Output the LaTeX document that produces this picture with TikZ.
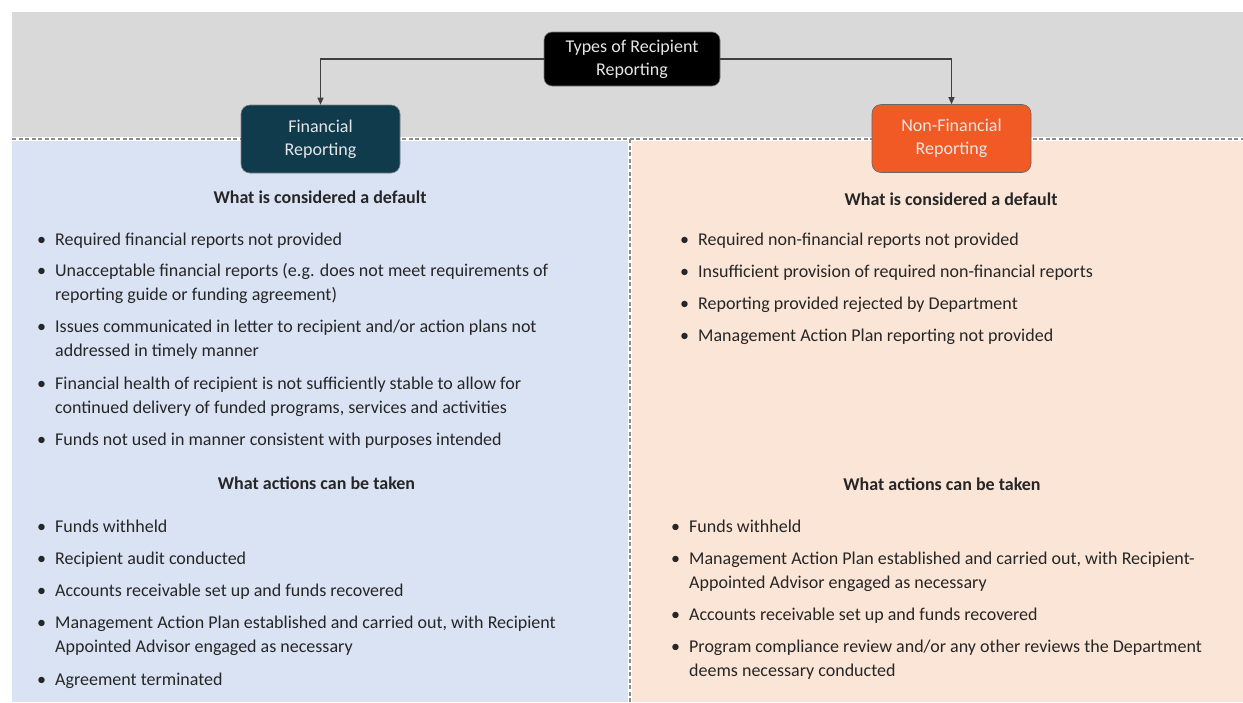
\documentclass[tikz,border=0pt]{standalone}
\usepackage{fontspec}
\setmainfont{Carlito}
\usetikzlibrary{arrows.meta}

\definecolor{bandgray}{HTML}{D9D9D9}
\definecolor{finpanel}{HTML}{DAE3F3}
\definecolor{nfpanel}{HTML}{FBE5D6}
\definecolor{finfill}{HTML}{0F3B4C}
\definecolor{nffill}{HTML}{F15A24}
\definecolor{bodytext}{HTML}{262626}
\definecolor{boxtext}{HTML}{E6E6E6}
\definecolor{rulegray}{HTML}{8C8C8C}
\definecolor{linkgray}{HTML}{404040}

\newlength{\bulw}
\setlength{\bulw}{18.5pt}
\newcommand{\bul}{\makebox[\bulw][l]{\hspace*{0.5pt}•}}
\newcommand{\cont}{\hspace*{\bulw}}

\begin{document}
\begin{tikzpicture}[x=1pt,y=-1pt,
  every node/.style={font=\fontsize{18}{24}\selectfont},
  roundbox/.style={rounded corners=9pt, minimum width=159pt, minimum height=68pt,
    align=center, text=boxtext, draw=gray, line width=0.6pt,
    font=\fontsize{18}{23}\selectfont},
  hubbox/.style={roundbox, fill=black, minimum width=176pt, minimum height=54pt,
    rounded corners=8pt},
  finbox/.style={roundbox, fill=finfill},
  nfbox/.style={roundbox, fill=nffill, draw=gray!80!black},
  link/.style={draw=linkgray, line width=1.1pt, -{Triangle[length=7pt,width=6pt]}},
  heading/.style={anchor=base, text=bodytext, inner sep=0pt,
    font=\fontsize{18}{24}\selectfont\bfseries},
  % base anchor of a two-line entry sits on its last line
  entry/.style={anchor=base west, align=left, text=bodytext, inner sep=0pt},
  sep/.style={rulegray, line width=1.6pt, dash pattern=on 4pt off 2.5pt},
  sepunder/.style={white, line width=3.2pt}
]
\useasboundingbox (0,0) rectangle (1243,702);

% background bands
\fill[bandgray] (12,12) rectangle (1243,139);
\fill[finpanel] (12,139) rectangle (630,702);
\fill[nfpanel] (630,139) rectangle (1243,702);

% dotted dividers
\draw[sepunder] (12,139) -- (1243,139);
\draw[sepunder] (630,139) -- (630,702);
\draw[sep] (12,139) -- (1243,139);
\draw[sep] (630,139) -- (630,702);

% boxes
\node[hubbox] (types) at (632,59) {Types of Recipient\\Reporting};
\node[finbox] (fin) at (320.5,139) {Financial\\Reporting};
\node[nfbox] (nonfin) at (951.5,138.5) {Non-Financial\\Reporting};

\draw[link] (types.west) -| (fin.north);
\draw[link] (types.east) -| (nonfin.north);

% financial reporting column
\node[heading] (fhead1) at (320,203) {What is considered a default};
\node[entry] (fd1) at (36.5,245) {\bul Required financial reports not provided};
\node[entry] (fd2) at (36.5,300) {\bul Unacceptable financial reports (e.g. does not meet requirements of\\\cont reporting guide or funding agreement)};
\node[entry] (fd3) at (36.5,356) {\bul Issues communicated in letter to recipient and/or action plans not\\\cont addressed in timely manner};
\node[entry] (fd4) at (36.5,413) {\bul Financial health of recipient is not sufficiently stable to allow for\\\cont continued delivery of funded programs, services and activities};
\node[entry] (fd5) at (36.5,445) {\bul Funds not used in manner consistent with purposes intended};

\node[heading] (fhead2) at (316.5,489) {What actions can be taken};
\node[entry] (fa1) at (36.5,532) {\bul Funds withheld};
\node[entry] (fa2) at (36.5,564) {\bul Recipient audit conducted};
\node[entry] (fa3) at (36.5,596) {\bul Accounts receivable set up and funds recovered};
\node[entry] (fa4) at (36.5,652) {\bul Management Action Plan established and carried out, with Recipient\\\cont Appointed Advisor engaged as necessary};
\node[entry] (fa5) at (36.5,685) {\bul Agreement terminated};

% non-financial reporting column
\node[heading] (nhead1) at (951,205) {What is considered a default};
\node[entry] (nd1) at (679.5,245) {\bul Required non-financial reports not provided};
\node[entry] (nd2) at (679.5,277) {\bul Insufficient provision of required non-financial reports};
\node[entry] (nd3) at (679.5,309) {\bul Reporting provided rejected by Department};
\node[entry] (nd4) at (679.5,341) {\bul Management Action Plan reporting not provided};

\node[heading] (nhead2) at (942,490) {What actions can be taken};
\node[entry] (na1) at (670.5,532) {\bul Funds withheld};
\node[entry] (na2) at (670.5,588) {\bul Management Action Plan established and carried out, with Recipient-\\\cont Appointed Advisor engaged as necessary};
\node[entry] (na3) at (670.5,620) {\bul Accounts receivable set up and funds recovered};
\node[entry] (na4) at (670.5,676) {\bul Program compliance review and/or any other reviews the Department\\\cont deems necessary conducted};
\end{tikzpicture}
\end{document}
